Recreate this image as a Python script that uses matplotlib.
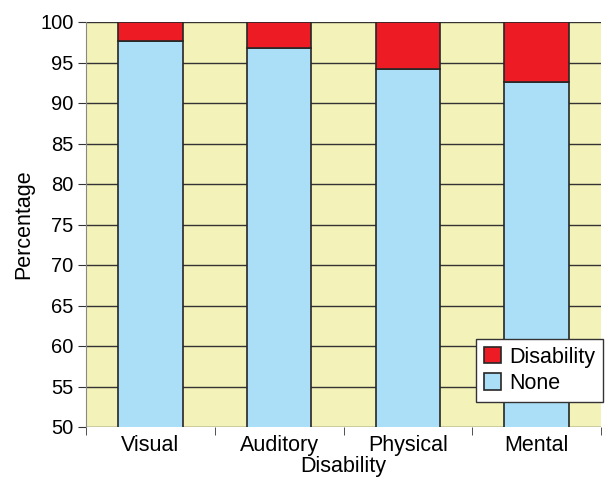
import numpy as np
import matplotlib.pyplot as plt

plt.rcParams['font.family'] = ['Liberation Sans', 'DejaVu Sans']

categories = ['Visual', 'Auditory', 'Physical', 'Mental']
none_pct = [97.7, 96.8, 94.2, 92.6]
disability_pct = [100 - v for v in none_pct]

fs = 15.5

fig = plt.figure(figsize=(6.12, 4.78), dpi=100)
ax = fig.add_axes([86 / 612, 51 / 478, 515 / 612, 405 / 478])
ax.set_facecolor('#f2f2b9')

x = np.arange(len(categories))
ax.bar(x, none_pct, width=0.5, color='#abdff8', edgecolor='#262626', linewidth=1.2,
       label='None', zorder=3)
ax.bar(x, disability_pct, width=0.5, bottom=none_pct, color='#ed1c24',
       edgecolor='#262626', linewidth=1.2, label='Disability', zorder=3)

ax.set_ylim(50, 100)
ax.set_xlim(-0.5, 3.5)
ax.set_yticks(np.arange(50, 101, 5))
ax.yaxis.grid(True, color='#333333', linewidth=1.0, zorder=1)

ax.set_xticks(x)
ax.set_xticklabels(categories)
ax.set_xticks(np.arange(-0.5, 4, 1), minor=True)
ax.tick_params(axis='x', which='major', length=0, labelsize=fs, pad=6)
ax.tick_params(axis='x', which='minor', length=6, color='#333333')
ax.tick_params(axis='y', length=6, color='#333333', labelsize=14.5, pad=3)

for s in ['top', 'right', 'bottom']:
    ax.spines[s].set_visible(False)
ax.spines['left'].set_color('#888888')

ax.set_xlabel('Disability', fontsize=fs, labelpad=0)
ax.set_ylabel('Percentage', fontsize=fs, labelpad=4)

handles, labels = ax.get_legend_handles_labels()
leg = ax.legend(handles[::-1], labels[::-1], loc='lower right', bbox_to_anchor=(1.012, 0.052),
                fontsize=fs, fancybox=False, framealpha=1, edgecolor='#333333',
                handlelength=0.8, handleheight=0.8, handletextpad=0.4,
                borderaxespad=0.2, labelspacing=0.25, borderpad=0.35)
leg.get_frame().set_linewidth(1.0)

plt.savefig('out.png', dpi=100)
